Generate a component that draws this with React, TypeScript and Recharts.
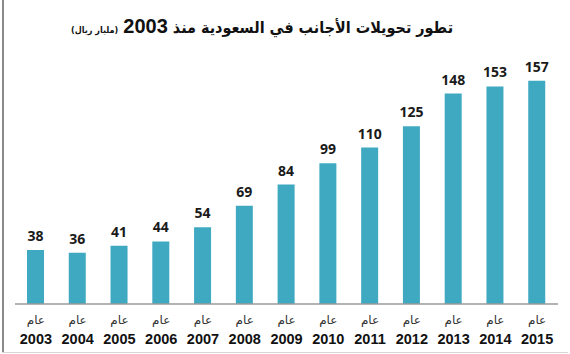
import { BarChart, Bar, XAxis, YAxis, LabelList } from 'recharts';

const YEARS = ['2003', '2004', '2005', '2006', '2007', '2008', '2009', '2010', '2011', '2012', '2013', '2014', '2015'];
const VALUES = [38, 36, 41, 44, 54, 69, 84, 99, 110, 125, 148, 153, 157];
const YEAR_WORD = 'عام';
const TITLE = 'تطور تحويلات الأجانب في السعودية منذ';
const TITLE_YEAR = '2003';
const UNIT = '(مليار ريال)';

const BAR_COLOR = '#3fa9c2';

const data = YEARS.map((y, i) => ({ year: y, value: VALUES[i] }));

function YearTick({ x, y, payload }: any) {
  return (
    <g transform={`translate(${x},${y})`}>
      <text
        x={0}
        y={20}
        textAnchor='middle'
        fontFamily='DejaVu Sans'
        fontSize={12}
        fill='#333'
      >
        {YEAR_WORD}
      </text>
      <text
        x={0}
        y={40}
        textAnchor='middle'
        fontFamily='Liberation Sans'
        fontWeight='bold'
        fontSize={14.5}
        fill='#111'
      >
        {payload.value}
      </text>
    </g>
  );
}

export default function App() {
  return (
    <div
      style={{
        position: 'fixed',
        top: 0,
        left: 0,
        width: 570,
        height: 354,
        background: '#fff',
      }}
    >
      {/* frame lines of the original image */}
      <div style={{ position: 'absolute', left: 2, top: 0, width: 2, height: 353, background: '#8a8a8a' }} />
      <div style={{ position: 'absolute', left: 2, top: 352, width: 566, height: 1, background: '#d6d6d6' }} />

      <div
        dir='rtl'
        style={{
          position: 'absolute',
          top: 15,
          left: 0,
          width: 524,
          textAlign: 'center',
          fontFamily: 'DejaVu Sans Condensed, DejaVu Sans',
          fontStretch: 'condensed',
          fontWeight: 'bold',
          color: '#111',
          whiteSpace: 'nowrap',
        }}
      >
        <span style={{ fontSize: 16 }}>{TITLE}</span>{' '}
        <span style={{ fontSize: 20, fontFamily: 'Liberation Sans' }}>{TITLE_YEAR}</span>{' '}
        <span style={{ fontSize: 9 }}>{UNIT}</span>
      </div>

      <BarChart
        width={570}
        height={354}
        data={data}
        margin={{ top: 48, right: 12, bottom: 0, left: 15 }}
        style={{ position: 'absolute', top: 0, left: 0 }}
      >
        <XAxis
          dataKey='year'
          height={50}
          tickLine={false}
          tickSize={0}
          tickMargin={0}
          axisLine={{ stroke: '#9a9a9a', strokeWidth: 1.5 }}
          tick={<YearTick />}
          interval={0}
        />
        <YAxis hide domain={[0, 180]} />
        <Bar dataKey='value' fill={BAR_COLOR} barSize={17} isAnimationActive={false}>
          <LabelList
            dataKey='value'
            position='top'
            offset={9}
            fontFamily='Open Sans'
            fontWeight='bold'
            fontSize={14}
            fill='#1a1a1a'
          />
        </Bar>
      </BarChart>
    </div>
  );
}
